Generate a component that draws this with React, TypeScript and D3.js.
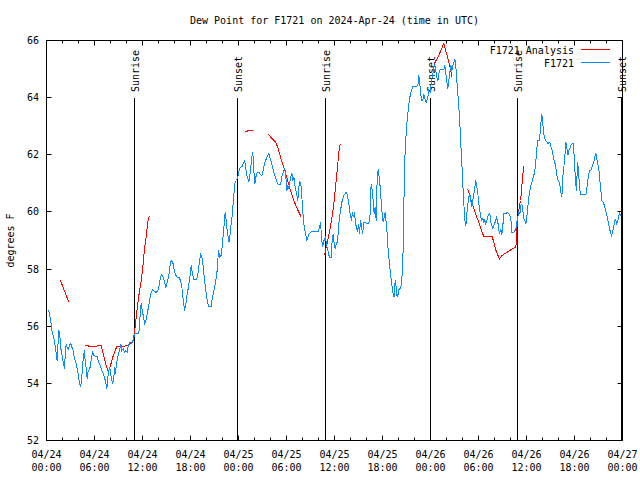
import React from "react";
import * as d3 from "d3";

// ---- data (hours since 2024-04-24 00:00 UTC, dew point in °F) ----
const obsHours = [
  0.25,0.38,0.58,0.67,0.92,1.08,1.21,1.33,1.42,1.54,1.67,1.75,1.92,2.08,2.25,2.33,2.46,2.58,2.75,2.88,
  3.04,3.17,3.33,3.5,3.71,3.92,4.08,4.25,4.38,4.5,4.63,4.75,4.83,4.96,5.08,5.17,5.29,5.46,5.58,5.75,
  5.92,6.08,6.33,6.5,6.71,6.92,7.08,7.25,7.42,7.54,7.67,7.79,7.92,8.0,8.17,8.29,8.42,8.5,8.58,8.71,
  8.83,9.0,9.17,9.29,9.42,9.58,9.75,9.92,10.08,10.17,10.33,10.5,10.67,10.79,10.92,11.08,11.54,11.63,11.75,11.83,
  11.96,12.13,12.25,12.42,12.58,12.75,12.92,13.08,13.29,13.5,13.71,13.92,14.08,14.25,14.42,14.58,14.75,14.92,15.08,15.25,
  15.38,15.5,15.67,15.83,16.0,16.17,16.33,16.58,16.75,16.92,17.08,17.25,17.42,17.58,17.75,17.92,18.08,18.25,18.42,18.75,
  18.92,19.08,19.25,19.42,19.58,19.75,19.92,20.08,20.25,20.58,20.67,20.92,21.17,21.33,21.5,21.67,21.83,21.96,22.08,22.21,
  22.33,22.46,22.58,22.71,22.83,22.96,23.08,23.21,23.33,23.46,23.58,23.75,23.92,24.08,24.25,24.46,24.58,24.75,24.88,25.0,
  25.17,25.29,25.42,25.54,25.67,25.79,25.92,26.04,26.17,26.33,26.54,26.75,26.92,27.08,27.25,27.42,27.58,27.79,27.92,28.08,
  28.25,28.42,28.58,28.75,28.92,29.08,29.25,29.38,29.5,29.67,29.79,29.92,30.04,30.17,30.29,30.42,30.54,30.67,30.79,30.92,
  31.04,31.17,31.29,31.42,31.54,31.67,31.79,31.92,32.04,32.17,32.29,32.42,32.54,32.67,32.83,33.0,33.21,34.0,34.13,34.25,
  34.38,34.5,34.63,34.75,34.88,35.0,35.13,35.25,35.38,35.58,35.71,35.83,35.96,36.08,36.21,36.33,36.46,36.58,36.75,36.96,
  37.17,37.46,37.63,37.79,37.96,38.13,38.25,38.38,38.5,38.63,38.75,38.88,39.0,39.13,39.25,39.38,39.5,39.67,39.88,40.08,
  40.29,40.46,40.58,40.71,40.83,40.96,41.08,41.21,41.33,41.46,41.58,41.71,41.83,41.96,42.08,42.21,42.33,42.46,42.58,42.71,
  42.83,42.96,43.08,43.21,43.33,43.46,43.58,43.71,43.83,43.96,44.08,44.21,44.33,44.46,44.58,44.71,44.83,44.96,45.08,45.21,
  45.33,45.46,45.63,45.79,46.29,46.46,46.54,46.63,46.75,46.88,47.04,47.17,47.29,47.46,47.63,47.79,47.96,48.13,48.29,48.46,
  48.63,48.75,48.92,49.04,49.21,49.67,49.79,49.92,50.04,50.17,50.29,50.42,50.54,50.67,50.79,50.92,51.04,51.17,51.29,51.42,
  51.54,51.67,51.79,51.92,52.04,52.17,52.29,52.42,52.54,52.67,52.79,52.92,53.04,53.17,53.29,53.42,53.54,53.67,53.79,53.92,
  54.04,54.17,54.29,54.42,54.54,54.67,54.79,54.92,55.04,55.17,55.29,55.42,55.54,55.67,55.79,55.92,56.08,56.25,56.42,56.54,
  56.67,56.79,56.92,57.04,57.17,57.38,57.58,57.75,57.92,58.04,58.17,58.33,58.5,58.67,58.79,58.92,59.04,59.17,59.29,59.42,
  59.54,59.67,59.79,59.92,60.04,60.17,60.29,60.42,60.54,60.67,60.79,60.92,61.04,61.17,61.29,61.42,61.58,61.71,61.83,61.92,
  62.04,62.17,62.29,62.42,62.58,62.71,62.83,62.96,63.08,63.21,63.33,63.46,63.58,63.71,63.83,63.96,64.08,64.21,64.33,64.42,
  64.54,64.67,64.79,64.92,65.04,65.17,65.29,65.42,65.54,65.67,65.88,66.0,66.13,66.25,66.38,66.5,66.63,66.75,67.42,67.54,
  67.67,67.79,67.92,68.08,68.25,68.42,68.54,68.67,68.79,68.92,69.04,69.17,69.29,69.42,69.58,69.75,69.88,70.0,70.13,70.25,
  70.38,70.5,70.63,70.75,70.88,71.0,71.13,71.25,71.38,71.5,71.63,71.75,
];
const obsDew = [
  56.55,56.43,56.1,55.85,55.57,55.33,55.04,54.8,55.27,55.85,55.67,55.27,55.04,54.74,54.52,54.92,55.39,55.27,55.19,55.33,
  55.4,55.27,55.15,54.87,54.7,54.39,54.1,53.87,54.1,54.57,54.98,55.15,54.8,54.52,54.17,54.39,54.45,54.57,54.8,55.09,
  54.98,54.95,54.95,54.74,54.63,54.45,54.34,54.22,54.0,53.81,54.22,54.45,54.57,54.34,54.1,54.0,54.22,54.57,54.34,54.57,
  54.8,55.04,55.21,55.39,55.15,55.21,55.09,55.15,55.09,55.27,55.4,55.44,55.39,55.5,55.62,55.73,55.73,56.1,56.55,56.8,
  56.55,56.32,56.08,56.2,56.43,56.67,56.96,57.19,57.27,57.21,57.19,57.25,57.43,57.72,57.8,57.72,57.54,57.37,57.54,57.72,
  57.95,58.24,58.3,58.18,57.89,57.78,57.72,57.7,57.6,57.37,56.96,56.55,56.78,57.13,57.37,57.72,58.13,57.83,57.62,57.62,
  57.83,58.18,58.51,58.42,58.13,57.6,57.25,56.92,56.7,56.7,56.9,57.25,57.6,57.95,58.65,58.42,58.48,58.77,59.18,59.58,
  59.99,59.7,59.35,59.12,58.94,59.23,59.58,59.87,60.28,60.75,61.04,61.1,61.22,61.45,61.57,61.59,61.68,61.78,61.63,61.33,
  61.16,61.04,61.28,61.57,61.92,62.09,61.45,60.98,61.22,61.39,61.39,61.31,61.28,61.45,61.68,61.82,61.94,62.06,61.92,61.75,
  61.57,61.39,61.24,61.1,60.98,60.95,60.95,61.16,61.33,61.45,61.51,61.22,60.75,60.93,60.81,61.04,61.24,61.36,61.1,61.22,
  60.93,60.75,60.58,60.4,60.87,61.04,60.98,60.52,59.99,59.58,59.35,59.18,59.0,59.12,59.23,59.29,59.31,59.31,59.47,59.64,
  59.12,58.77,58.94,59.06,59.12,58.83,58.71,58.53,58.42,58.42,59.0,59.23,58.88,58.71,58.88,58.94,59.23,59.7,60.05,60.4,
  60.58,60.69,60.58,60.28,59.93,59.7,59.99,59.82,59.99,59.58,59.47,59.29,59.58,59.23,59.7,59.52,59.23,59.64,59.64,59.58,
  59.6,59.93,60.98,60.75,60.4,59.93,60.17,59.7,61.1,61.51,61.22,60.87,60.4,59.93,59.64,59.82,59.99,59.64,59.23,58.65,
  58.3,57.95,57.66,57.37,57.13,57.02,57.6,57.37,57.02,57.13,57.31,57.31,57.43,57.83,58.65,60.87,62.15,62.73,63.2,63.55,
  63.84,64.08,64.25,64.39,64.39,64.49,64.78,64.6,64.19,63.9,63.9,64.13,63.96,63.84,63.96,64.25,64.2,64.6,64.83,65.13,
  65.07,64.72,64.6,64.83,64.97,64.97,65.13,64.83,64.54,64.31,64.6,64.9,65.13,64.95,65.13,65.24,65.36,65.07,64.6,64.13,
  63.67,63.08,62.38,61.68,60.98,60.28,59.7,59.52,59.93,60.28,60.52,60.63,60.4,60.17,60.4,60.63,60.87,61.1,60.87,60.63,
  60.28,60.05,59.82,59.7,59.76,59.64,59.72,59.58,59.7,59.84,59.93,59.95,59.64,59.52,59.41,59.52,59.64,59.79,59.64,59.35,
  59.26,59.41,59.21,59.52,59.93,59.93,59.99,59.95,59.87,59.76,59.29,59.29,59.31,59.41,59.64,59.82,59.99,59.93,60.22,60.28,
  60.05,59.76,59.7,59.58,59.82,60.17,60.52,60.75,60.93,61.04,61.16,61.28,61.45,61.8,62.21,62.5,62.5,62.79,63.2,63.43,
  63.08,62.73,62.56,62.5,62.44,62.38,62.44,62.4,62.27,62.15,61.98,61.8,61.68,61.45,61.22,61.1,61.04,60.87,60.63,60.52,
  61.22,61.57,61.92,62.44,62.27,61.98,62.15,62.21,62.33,62.38,62.38,61.68,61.1,60.75,61.75,61.45,60.87,60.6,60.6,60.81,
  61.1,61.33,61.45,61.47,61.63,61.75,61.92,62.06,61.86,61.68,61.51,61.1,60.75,60.4,60.34,60.22,60.05,59.93,59.76,59.58,
  59.41,59.29,59.18,59.29,59.47,59.64,59.76,59.58,59.64,59.82,59.99,59.87,
];

// Analysis series: null values separate the segments
const anaHours = [
  1.75,2.79,null,
  4.84,5.38,6.21,6.84,7.09,7.34,7.75,8.0,8.29,8.59,8.79,9.54,10.16,10.5,10.79,10.91,11.09,11.25,11.41,11.63,11.84,12.04,12.25,12.46,12.66,12.84,null,
  24.75,25.29,25.84,null,
  27.75,28.21,28.63,28.91,29.25,29.66,30.09,30.5,30.91,31.34,31.84,null,
  34.75,34.91,35.16,35.41,35.66,35.91,36.16,36.41,36.59,36.71,null,
  48.5,49.04,49.66,50.09,50.41,50.69,null,
  52.66,52.88,53.21,53.63,54.04,54.25,54.46,54.66,55.71,55.91,56.25,56.63,56.96,57.59,58.21,58.63,58.75,58.84,59.04,59.25,59.38,59.5,59.66,
];
const anaDew = [
  57.6,56.84,null,
  55.33,55.3,55.3,55.33,55.03,54.74,54.39,54.63,54.92,55.15,55.29,55.29,55.33,55.4,55.44,55.62,55.97,56.43,56.78,57.25,57.6,58.07,58.71,59.12,59.64,59.87,null,
  62.79,62.85,62.85,null,
  62.71,62.56,62.44,62.27,61.92,61.57,61.16,60.75,60.4,60.11,59.82,null,
  58.48,58.71,59.0,59.35,59.76,60.28,60.98,61.68,62.21,62.38,null,
  65.2,65.48,65.9,65.45,65.1,64.72,null,
  60.81,60.58,60.28,59.93,59.64,59.47,59.29,59.14,59.14,58.94,58.59,58.36,58.48,58.59,58.71,58.77,58.94,59.7,60.05,60.4,60.75,61.22,61.59,
];

const sunHours = [11.0, 23.91, 34.91, 47.94, 58.91, 71.9];
const sunLabels = ["Sunrise", "Sunset", "Sunrise", "Sunset", "Sunrise", "Sunset"];
const yTicks = [52, 54, 56, 58, 60, 62, 64, 66];
const seriesNames = ["F1721 Analysis", "F1721"];
const seriesColors = ["#ff0000", "#0a8cff"];
const titleText = "Dew Point for F1721 on 2024-Apr-24 (time in UTC)";
const yLabel = "degrees F";

const T0 = Date.UTC(2024, 3, 24);
const T1 = Date.UTC(2024, 3, 27);
const HOUR = 3600e3;

export default function App() {
  const W = 640, H = 480;
  const left = 46.5, right = 622.5, top = 40.5, bottom = 440.5;
  const font = "'DejaVu Sans Mono', monospace";

  const x = d3.scaleUtc().domain([new Date(T0), new Date(T1)]).range([left, right]);
  const y = d3.scaleLinear().domain([52, 66]).range([bottom, top]);

  const obs = obsHours.map((h, i) => ({ t: new Date(T0 + h * HOUR), v: obsDew[i] }));
  const ana = anaHours.map((h, i) => ({
    t: h == null ? null : new Date(T0 + h * HOUR),
    v: anaDew[i],
  }));

  const line = d3
    .line<any>()
    .defined((d) => d.v != null && d.t != null)
    .x((d) => x(d.t))
    .y((d) => y(d.v));

  const majorTicks = x.ticks(d3.utcHour.every(6)!);
  const minorTicks = x.ticks(d3.utcHour.every(2)!).filter((d) => d.getUTCHours() % 6 !== 0);
  const fmtDate = d3.utcFormat("%m/%d");
  const fmtTime = d3.utcFormat("%H:%M");

  return (
    <svg
      width={W}
      height={H}
      style={{ position: "absolute", left: 0, top: 0, background: "#fff" }}
      fontFamily={font}
      fontSize={10}
    >
      <rect x={0} y={0} width={W} height={H} fill="#fff" />
      <text x={(left + right) / 2} y={24} textAnchor="middle">{titleText}</text>
      <text transform={`translate(14,${(top + bottom) / 2}) rotate(-90)`} textAnchor="middle">{yLabel}</text>

      {/* y ticks */}
      {yTicks.map((v) => (
        <g key={v}>
          <line x1={left} x2={left + 5} y1={Math.round(y(v) - 0.5) + 0.5} y2={Math.round(y(v) - 0.5) + 0.5} stroke="#000" />
          <line x1={right - 5} x2={right} y1={Math.round(y(v) - 0.5) + 0.5} y2={Math.round(y(v) - 0.5) + 0.5} stroke="#000" />
          <text x={39} y={y(v)} dy="0.35em" textAnchor="end">{v}</text>
        </g>
      ))}

      {/* x ticks */}
      {majorTicks.map((d, i) => (
        <g key={"M" + i}>
          <line x1={x(d)} x2={x(d)} y1={bottom} y2={bottom - 5} stroke="#000" />
          <line x1={x(d)} x2={x(d)} y1={top} y2={top + 5} stroke="#000" />
          <text x={x(d)} y={458} textAnchor="middle">{fmtDate(d)}</text>
          <text x={x(d)} y={471} textAnchor="middle">{fmtTime(d)}</text>
        </g>
      ))}
      {minorTicks.map((d, i) => (
        <g key={"m" + i}>
          <line x1={x(d)} x2={x(d)} y1={bottom} y2={bottom - 3} stroke="#000" />
          <line x1={x(d)} x2={x(d)} y1={top} y2={top + 3} stroke="#000" />
        </g>
      ))}

      {/* sunrise / sunset */}
      {sunHours.map((h, i) => {
        const sx = Math.floor(x(new Date(T0 + h * HOUR))) + 0.5;
        return (
          <g key={"s" + i}>
            <line x1={sx} x2={sx} y1={bottom} y2={98} stroke="#000" />
            <text transform={`translate(${sx + 4.5},92) rotate(-90)`} textAnchor="start">{sunLabels[i]}</text>
          </g>
        );
      })}

      {/* data */}
      <path d={line(ana) || ""} fill="none" stroke={seriesColors[0]} strokeWidth={1} shapeRendering="crispEdges" />
      <path d={line(obs) || ""} fill="none" stroke={seriesColors[1]} strokeWidth={1} shapeRendering="crispEdges" />

      {/* legend */}
      {seriesNames.map((n, i) => (
        <g key={n}>
          <text x={574} y={54 + i * 13} textAnchor="end">{n}</text>
          <line x1={581} x2={610} y1={49.5 + i * 13} y2={49.5 + i * 13} stroke={seriesColors[i]} />
        </g>
      ))}

      {/* frame */}
      <rect x={left} y={top} width={right - left} height={bottom - top} fill="none" stroke="#000" />
    </svg>
  );
}
